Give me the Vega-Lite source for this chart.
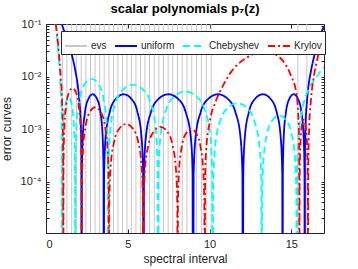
{
  "$schema": "https://vega.github.io/schema/vega-lite/v6.json",
  "width": 278,
  "height": 209,
  "autosize": {"type": "none"},
  "padding": {"left": 46, "top": 24, "right": 34, "bottom": 36},
  "background": "white",
  "title": {"text": "scalar polynomials p₇(z)", "fontSize": 13, "fontWeight": "bold", "font": "Liberation Sans", "color": "black", "frame": "group", "anchor": "middle", "baseline": "bottom", "offset": 6, "dy": 17},
  "datasets": {
    "evs": [
      {"series": "evs", "x": 1.0}, {"series": "evs", "x": 1.28}, {"series": "evs", "x": 1.57}, {"series": "evs", "x": 1.86},
      {"series": "evs", "x": 2.15}, {"series": "evs", "x": 2.44}, {"series": "evs", "x": 2.72}, {"series": "evs", "x": 3.0},
      {"series": "evs", "x": 3.28}, {"series": "evs", "x": 3.56}, {"series": "evs", "x": 3.85}, {"series": "evs", "x": 4.13},
      {"series": "evs", "x": 4.4}, {"series": "evs", "x": 4.68}, {"series": "evs", "x": 4.95}, {"series": "evs", "x": 5.22},
      {"series": "evs", "x": 5.5}, {"series": "evs", "x": 5.78}, {"series": "evs", "x": 6.05}, {"series": "evs", "x": 6.33},
      {"series": "evs", "x": 6.62}, {"series": "evs", "x": 6.9}, {"series": "evs", "x": 7.18}, {"series": "evs", "x": 7.47},
      {"series": "evs", "x": 7.75}, {"series": "evs", "x": 8.04}, {"series": "evs", "x": 8.33}, {"series": "evs", "x": 8.62},
      {"series": "evs", "x": 8.91}, {"series": "evs", "x": 9.2}, {"series": "evs", "x": 9.5}, {"series": "evs", "x": 9.8},
      {"series": "evs", "x": 10.1}, {"series": "evs", "x": 15.4}, {"series": "evs", "x": 15.95}
    ],
    "uniform": [
      {"series": "uniform", "x": 0.97, "y": 0.1},
      {"series": "uniform", "x": 1.0, "y": 0.093}, {"series": "uniform", "x": 1.2, "y": 0.0635}, {"series": "uniform", "x": 1.5, "y": 0.032},
      {"series": "uniform", "x": 1.8, "y": 0.0126}, {"series": "uniform", "x": 1.95, "y": 0.0065}, {"series": "uniform", "x": 2.05, "y": 0.0031},
      {"series": "uniform", "x": 2.12, "y": 0.0014}, {"series": "uniform", "x": 2.16, "y": 0.0004}, {"series": "uniform", "x": 2.18, "y": 1e-9},
      {"series": "uniform", "x": 2.194, "y": 0.000144}, {"series": "uniform", "x": 2.248, "y": 0.00072}, {"series": "uniform", "x": 2.383, "y": 0.00209},
      {"series": "uniform", "x": 2.585, "y": 0.00372}, {"series": "uniform", "x": 2.855, "y": 0.0046}, {"series": "uniform", "x": 3.125, "y": 0.00372},
      {"series": "uniform", "x": 3.328, "y": 0.00209}, {"series": "uniform", "x": 3.463, "y": 0.00072}, {"series": "uniform", "x": 3.517, "y": 0.000144},
      {"series": "uniform", "x": 3.53, "y": 1e-9},
      {"series": "uniform", "x": 3.554, "y": 0.000144}, {"series": "uniform", "x": 3.652, "y": 0.00072}, {"series": "uniform", "x": 3.895, "y": 0.00209},
      {"series": "uniform", "x": 4.259, "y": 0.00372}, {"series": "uniform", "x": 4.745, "y": 0.0046}, {"series": "uniform", "x": 5.231, "y": 0.00372},
      {"series": "uniform", "x": 5.596, "y": 0.00209}, {"series": "uniform", "x": 5.839, "y": 0.00072}, {"series": "uniform", "x": 5.936, "y": 0.000144},
      {"series": "uniform", "x": 5.96, "y": 1e-9},
      {"series": "uniform", "x": 5.99, "y": 0.000144}, {"series": "uniform", "x": 6.112, "y": 0.00072}, {"series": "uniform", "x": 6.416, "y": 0.00209},
      {"series": "uniform", "x": 6.872, "y": 0.00372}, {"series": "uniform", "x": 7.48, "y": 0.0046}, {"series": "uniform", "x": 8.088, "y": 0.00372},
      {"series": "uniform", "x": 8.544, "y": 0.00209}, {"series": "uniform", "x": 8.848, "y": 0.00072}, {"series": "uniform", "x": 8.97, "y": 0.000144},
      {"series": "uniform", "x": 9.0, "y": 1e-9},
      {"series": "uniform", "x": 9.03, "y": 0.000144}, {"series": "uniform", "x": 9.152, "y": 0.00072}, {"series": "uniform", "x": 9.456, "y": 0.00209},
      {"series": "uniform", "x": 9.912, "y": 0.00372}, {"series": "uniform", "x": 10.52, "y": 0.0046}, {"series": "uniform", "x": 11.128, "y": 0.00372},
      {"series": "uniform", "x": 11.584, "y": 0.00209}, {"series": "uniform", "x": 11.888, "y": 0.00072}, {"series": "uniform", "x": 12.01, "y": 0.000144},
      {"series": "uniform", "x": 12.04, "y": 1e-9},
      {"series": "uniform", "x": 12.064, "y": 0.000144}, {"series": "uniform", "x": 12.162, "y": 0.00072}, {"series": "uniform", "x": 12.405, "y": 0.00209},
      {"series": "uniform", "x": 12.769, "y": 0.00372}, {"series": "uniform", "x": 13.255, "y": 0.0046}, {"series": "uniform", "x": 13.741, "y": 0.00372},
      {"series": "uniform", "x": 14.106, "y": 0.00209}, {"series": "uniform", "x": 14.349, "y": 0.00072}, {"series": "uniform", "x": 14.446, "y": 0.000144},
      {"series": "uniform", "x": 14.47, "y": 1e-9},
      {"series": "uniform", "x": 14.484, "y": 0.000144}, {"series": "uniform", "x": 14.538, "y": 0.00072}, {"series": "uniform", "x": 14.673, "y": 0.00209},
      {"series": "uniform", "x": 14.875, "y": 0.00372}, {"series": "uniform", "x": 15.145, "y": 0.0046}, {"series": "uniform", "x": 15.415, "y": 0.00372},
      {"series": "uniform", "x": 15.618, "y": 0.00209}, {"series": "uniform", "x": 15.753, "y": 0.00072}, {"series": "uniform", "x": 15.807, "y": 0.000144},
      {"series": "uniform", "x": 15.82, "y": 1e-9},
      {"series": "uniform", "x": 15.84, "y": 0.0004}, {"series": "uniform", "x": 15.88, "y": 0.0014}, {"series": "uniform", "x": 15.95, "y": 0.0031},
      {"series": "uniform", "x": 16.05, "y": 0.0065}, {"series": "uniform", "x": 16.2, "y": 0.0126}, {"series": "uniform", "x": 16.5, "y": 0.032},
      {"series": "uniform", "x": 16.8, "y": 0.064}, {"series": "uniform", "x": 17, "y": 0.09}
    ],
    "chebyshev": [
      {"series": "Chebyshev", "x": 0.57, "y": 0.1},
      {"series": "Chebyshev", "x": 0.6, "y": 0.09}, {"series": "Chebyshev", "x": 0.7, "y": 0.045}, {"series": "Chebyshev", "x": 0.8, "y": 0.018},
      {"series": "Chebyshev", "x": 0.88, "y": 0.007}, {"series": "Chebyshev", "x": 0.94, "y": 0.0025}, {"series": "Chebyshev", "x": 0.97, "y": 0.0007},
      {"series": "Chebyshev", "x": 0.98, "y": 1e-9},
      {"series": "Chebyshev", "x": 0.988, "y": 0.000126}, {"series": "Chebyshev", "x": 1.02, "y": 0.00063}, {"series": "Chebyshev", "x": 1.1, "y": 0.00182},
      {"series": "Chebyshev", "x": 1.22, "y": 0.00324}, {"series": "Chebyshev", "x": 1.38, "y": 0.004}, {"series": "Chebyshev", "x": 1.54, "y": 0.00324},
      {"series": "Chebyshev", "x": 1.66, "y": 0.00182}, {"series": "Chebyshev", "x": 1.74, "y": 0.00063}, {"series": "Chebyshev", "x": 1.772, "y": 0.000126},
      {"series": "Chebyshev", "x": 1.78, "y": 1e-9},
      {"series": "Chebyshev", "x": 1.8, "y": 0.000283}, {"series": "Chebyshev", "x": 1.881, "y": 0.00141}, {"series": "Chebyshev", "x": 2.083, "y": 0.00409},
      {"series": "Chebyshev", "x": 2.386, "y": 0.00728}, {"series": "Chebyshev", "x": 2.79, "y": 0.009}, {"series": "Chebyshev", "x": 3.194, "y": 0.00728},
      {"series": "Chebyshev", "x": 3.497, "y": 0.00409}, {"series": "Chebyshev", "x": 3.699, "y": 0.00141}, {"series": "Chebyshev", "x": 3.78, "y": 0.000283},
      {"series": "Chebyshev", "x": 3.8, "y": 1e-9},
      {"series": "Chebyshev", "x": 3.831, "y": 0.00022}, {"series": "Chebyshev", "x": 3.953, "y": 0.00109}, {"series": "Chebyshev", "x": 4.258, "y": 0.00318},
      {"series": "Chebyshev", "x": 4.715, "y": 0.00566}, {"series": "Chebyshev", "x": 5.325, "y": 0.007}, {"series": "Chebyshev", "x": 5.935, "y": 0.00566},
      {"series": "Chebyshev", "x": 6.393, "y": 0.00318}, {"series": "Chebyshev", "x": 6.698, "y": 0.00109}, {"series": "Chebyshev", "x": 6.82, "y": 0.00022},
      {"series": "Chebyshev", "x": 6.85, "y": 1e-9},
      {"series": "Chebyshev", "x": 6.884, "y": 0.000163}, {"series": "Chebyshev", "x": 7.018, "y": 0.00081}, {"series": "Chebyshev", "x": 7.353, "y": 0.00236},
      {"series": "Chebyshev", "x": 7.855, "y": 0.0042}, {"series": "Chebyshev", "x": 8.525, "y": 0.0052}, {"series": "Chebyshev", "x": 9.195, "y": 0.0042},
      {"series": "Chebyshev", "x": 9.698, "y": 0.00236}, {"series": "Chebyshev", "x": 10.033, "y": 0.00081}, {"series": "Chebyshev", "x": 10.167, "y": 0.000163},
      {"series": "Chebyshev", "x": 10.2, "y": 1e-9},
      {"series": "Chebyshev", "x": 10.23, "y": 0.000097}, {"series": "Chebyshev", "x": 10.35, "y": 0.000485}, {"series": "Chebyshev", "x": 10.65, "y": 0.00141},
      {"series": "Chebyshev", "x": 11.1, "y": 0.00251}, {"series": "Chebyshev", "x": 11.7, "y": 0.0031}, {"series": "Chebyshev", "x": 12.3, "y": 0.00251},
      {"series": "Chebyshev", "x": 12.75, "y": 0.00141}, {"series": "Chebyshev", "x": 13.05, "y": 0.000485}, {"series": "Chebyshev", "x": 13.17, "y": 0.000097},
      {"series": "Chebyshev", "x": 13.2, "y": 1e-9},
      {"series": "Chebyshev", "x": 13.221, "y": 0.0000565}, {"series": "Chebyshev", "x": 13.307, "y": 0.000282}, {"series": "Chebyshev", "x": 13.52, "y": 0.00082},
      {"series": "Chebyshev", "x": 13.839, "y": 0.00146}, {"series": "Chebyshev", "x": 14.265, "y": 0.0018}, {"series": "Chebyshev", "x": 14.691, "y": 0.00146},
      {"series": "Chebyshev", "x": 15.011, "y": 0.00082}, {"series": "Chebyshev", "x": 15.224, "y": 0.000282}, {"series": "Chebyshev", "x": 15.309, "y": 0.0000565},
      {"series": "Chebyshev", "x": 15.33, "y": 1e-9},
      {"series": "Chebyshev", "x": 15.36, "y": 0.00015}, {"series": "Chebyshev", "x": 15.45, "y": 0.0007}, {"series": "Chebyshev", "x": 15.6, "y": 0.0018},
      {"series": "Chebyshev", "x": 15.8, "y": 0.0035}, {"series": "Chebyshev", "x": 16.1, "y": 0.006}, {"series": "Chebyshev", "x": 16.5, "y": 0.0095},
      {"series": "Chebyshev", "x": 17, "y": 0.015}
    ],
    "krylov": [
      {"series": "Krylov", "x": 0.6, "y": 0.1}, {"series": "Krylov", "x": 0.7, "y": 0.055}, {"series": "Krylov", "x": 0.8, "y": 0.025},
      {"series": "Krylov", "x": 0.9, "y": 0.01}, {"series": "Krylov", "x": 0.98, "y": 0.0035}, {"series": "Krylov", "x": 1.03, "y": 0.001},
      {"series": "Krylov", "x": 1.05, "y": 0.0003}, {"series": "Krylov", "x": 1.06, "y": 1e-9},
      {"series": "Krylov", "x": 1.071, "y": 0.000188}, {"series": "Krylov", "x": 1.116, "y": 0.00094}, {"series": "Krylov", "x": 1.228, "y": 0.00272},
      {"series": "Krylov", "x": 1.396, "y": 0.00485}, {"series": "Krylov", "x": 1.62, "y": 0.006}, {"series": "Krylov", "x": 1.844, "y": 0.00485},
      {"series": "Krylov", "x": 2.012, "y": 0.00272}, {"series": "Krylov", "x": 2.124, "y": 0.00094}, {"series": "Krylov", "x": 2.169, "y": 0.000188},
      {"series": "Krylov", "x": 2.18, "y": 1e-9},
      {"series": "Krylov", "x": 2.197, "y": 0.000082}, {"series": "Krylov", "x": 2.264, "y": 0.000407}, {"series": "Krylov", "x": 2.431, "y": 0.00118},
      {"series": "Krylov", "x": 2.681, "y": 0.0021}, {"series": "Krylov", "x": 3.015, "y": 0.0026}, {"series": "Krylov", "x": 3.349, "y": 0.0021},
      {"series": "Krylov", "x": 3.6, "y": 0.00118}, {"series": "Krylov", "x": 3.767, "y": 0.000407}, {"series": "Krylov", "x": 3.833, "y": 0.000082},
      {"series": "Krylov", "x": 3.85, "y": 1e-9},
      {"series": "Krylov", "x": 3.871, "y": 0.000039}, {"series": "Krylov", "x": 3.955, "y": 0.000196}, {"series": "Krylov", "x": 4.165, "y": 0.00057},
      {"series": "Krylov", "x": 4.48, "y": 0.00101}, {"series": "Krylov", "x": 4.9, "y": 0.00125}, {"series": "Krylov", "x": 5.32, "y": 0.00101},
      {"series": "Krylov", "x": 5.635, "y": 0.00057}, {"series": "Krylov", "x": 5.845, "y": 0.000196}, {"series": "Krylov", "x": 5.929, "y": 0.000039},
      {"series": "Krylov", "x": 5.95, "y": 1e-9},
      {"series": "Krylov", "x": 5.971, "y": 0.0000345}, {"series": "Krylov", "x": 6.055, "y": 0.000172}, {"series": "Krylov", "x": 6.265, "y": 0.0005},
      {"series": "Krylov", "x": 6.58, "y": 0.00089}, {"series": "Krylov", "x": 7.0, "y": 0.0011}, {"series": "Krylov", "x": 7.42, "y": 0.00089},
      {"series": "Krylov", "x": 7.735, "y": 0.0005}, {"series": "Krylov", "x": 7.945, "y": 0.000172}, {"series": "Krylov", "x": 8.029, "y": 0.0000345},
      {"series": "Krylov", "x": 8.05, "y": 1e-9},
      {"series": "Krylov", "x": 8.067, "y": 0.000031}, {"series": "Krylov", "x": 8.133, "y": 0.000156}, {"series": "Krylov", "x": 8.298, "y": 0.000454},
      {"series": "Krylov", "x": 8.545, "y": 0.00081}, {"series": "Krylov", "x": 8.875, "y": 0.001}, {"series": "Krylov", "x": 9.205, "y": 0.00081},
      {"series": "Krylov", "x": 9.453, "y": 0.000454}, {"series": "Krylov", "x": 9.618, "y": 0.000156}, {"series": "Krylov", "x": 9.684, "y": 0.000031},
      {"series": "Krylov", "x": 9.7, "y": 1e-9},
      {"series": "Krylov", "x": 9.73, "y": 0.00012}, {"series": "Krylov", "x": 9.8, "y": 0.00042}, {"series": "Krylov", "x": 10.0, "y": 0.0013},
      {"series": "Krylov", "x": 10.4, "y": 0.0035}, {"series": "Krylov", "x": 10.8, "y": 0.0065}, {"series": "Krylov", "x": 11.3, "y": 0.012},
      {"series": "Krylov", "x": 11.9, "y": 0.019}, {"series": "Krylov", "x": 12.5, "y": 0.025}, {"series": "Krylov", "x": 13.2, "y": 0.03},
      {"series": "Krylov", "x": 13.8, "y": 0.028}, {"series": "Krylov", "x": 14.3, "y": 0.023}, {"series": "Krylov", "x": 14.7, "y": 0.016},
      {"series": "Krylov", "x": 15.0, "y": 0.01}, {"series": "Krylov", "x": 15.3, "y": 0.005}, {"series": "Krylov", "x": 15.42, "y": 0.002},
      {"series": "Krylov", "x": 15.48, "y": 0.0005}, {"series": "Krylov", "x": 15.5, "y": 1e-9},
      {"series": "Krylov", "x": 15.505, "y": 0.000047}, {"series": "Krylov", "x": 15.526, "y": 0.000235}, {"series": "Krylov", "x": 15.578, "y": 0.00068},
      {"series": "Krylov", "x": 15.656, "y": 0.00121}, {"series": "Krylov", "x": 15.76, "y": 0.0015}, {"series": "Krylov", "x": 15.864, "y": 0.00121},
      {"series": "Krylov", "x": 15.942, "y": 0.00068}, {"series": "Krylov", "x": 15.994, "y": 0.000235}, {"series": "Krylov", "x": 16.015, "y": 0.000047},
      {"series": "Krylov", "x": 16.02, "y": 1e-9},
      {"series": "Krylov", "x": 16.04, "y": 0.0002}, {"series": "Krylov", "x": 16.1, "y": 0.0012}, {"series": "Krylov", "x": 16.2, "y": 0.0035},
      {"series": "Krylov", "x": 16.4, "y": 0.011}, {"series": "Krylov", "x": 16.6, "y": 0.022}, {"series": "Krylov", "x": 16.8, "y": 0.038},
      {"series": "Krylov", "x": 17, "y": 0.062}
    ]
  },
  "encoding": {
    "x": {"field": "x", "type": "quantitative", "scale": {"domain": [0, 17], "nice": false, "zero": false}, "axis": null},
    "color": {"field": "series", "type": "nominal",
      "scale": {"domain": ["evs", "uniform", "Chebyshev", "Krylov"], "range": ["#c8c8c8", "#0000ff", "#00ffff", "#ff0000"]},
      "legend": {"orient": "none", "legendX": 15, "legendY": 7, "direction": "horizontal", "title": null}},
    "strokeDash": {"field": "series", "type": "nominal",
      "scale": {"domain": ["evs", "uniform", "Chebyshev", "Krylov"], "range": [[1, 0], [1, 0], [7, 4], [7, 3, 2, 3]]},
      "legend": {"orient": "none", "legendX": 15, "legendY": 7, "direction": "horizontal", "title": null}}
  },
  "layer": [
    {"data": {"name": "evs"}, "mark": {"type": "rule", "strokeWidth": 1}},
    {"data": {"name": "uniform"}, "mark": {"type": "line", "clip": true, "strokeWidth": 1.8, "interpolate": "monotone"},
      "encoding": {
        "x": {"field": "x", "type": "quantitative",
          "axis": {"values": [0, 5, 10, 15], "title": "spectral interval", "tickSize": -4, "labelPadding": 9, "titlePadding": 4}},
        "y": {"field": "y", "type": "quantitative",
        "scale": {"type": "log", "domain": [1.05e-5, 0.1], "nice": false},
        "axis": {"title": "error curves", "values": [0.00002, 0.00003, 0.00004, 0.00005, 0.00006, 0.00007, 0.00008, 0.00009, 0.0001, 0.0002, 0.0003, 0.0004, 0.0005, 0.0006, 0.0007, 0.0008, 0.0009, 0.001, 0.002, 0.003, 0.004, 0.005, 0.006, 0.007, 0.008, 0.009, 0.01, 0.02, 0.03, 0.04, 0.05, 0.06, 0.07, 0.08, 0.09, 0.1],
          "labelExpr": "datum.value == 0.1 ? '10⁻¹' : datum.value == 0.01 ? '10⁻²' : datum.value == 0.001 ? '10⁻³' : datum.value == 0.0001 ? '10⁻⁴' : ''",
          "tickSize": -3, "labelPadding": 8, "titlePadding": 7}}}},
    {"data": {"name": "chebyshev"}, "mark": {"type": "line", "clip": true, "strokeWidth": 1.8, "interpolate": "monotone"},
      "encoding": {"y": {"field": "y", "type": "quantitative", "axis": null}}},
    {"data": {"name": "krylov"}, "mark": {"type": "line", "clip": true, "strokeWidth": 1.8, "interpolate": "monotone"},
      "encoding": {"y": {"field": "y", "type": "quantitative", "axis": null}}},
    {"data": {"name": "krylov"}, "mark": {"type": "line", "clip": true, "opacity": 0},
      "encoding": {
        "x": {"field": "x", "type": "quantitative",
          "axis": {"orient": "top", "values": [0, 5, 10, 15], "labels": false, "title": null, "tickSize": -4, "domain": false}},
        "y": {"field": "y", "type": "quantitative",
          "axis": {"orient": "right", "values": [0.00002, 0.00003, 0.00004, 0.00005, 0.00006, 0.00007, 0.00008, 0.00009, 0.0001, 0.0002, 0.0003, 0.0004, 0.0005, 0.0006, 0.0007, 0.0008, 0.0009, 0.001, 0.002, 0.003, 0.004, 0.005, 0.006, 0.007, 0.008, 0.009, 0.01, 0.02, 0.03, 0.04, 0.05, 0.06, 0.07, 0.08, 0.09, 0.1],
            "labels": false, "title": null, "tickSize": -3, "domain": false}},
        "color": {"value": "transparent"}, "strokeDash": {"value": [1, 0]}}}
  ],
  "resolve": {"axis": {"x": "independent", "y": "independent"}},
  "config": {
    "font": "Liberation Sans",
    "view": {"stroke": "#262626", "strokeWidth": 1},
    "axis": {"domainColor": "#262626", "tickColor": "#262626", "labelColor": "#262626", "titleColor": "#262626", "grid": false,
      "labelFontSize": 11, "titleFontSize": 12, "titleFontWeight": "normal", "labelFont": "Liberation Sans", "titleFont": "Liberation Sans"},
    "legend": {"fillColor": "white", "strokeColor": "#262626", "padding": 3, "symbolType": "stroke", "symbolSize": 484,
      "symbolStrokeWidth": 2, "labelFontSize": 10, "labelColor": "#262626", "labelOffset": 3, "columnPadding": 4, "labelFont": "Liberation Sans"}
  }
}
